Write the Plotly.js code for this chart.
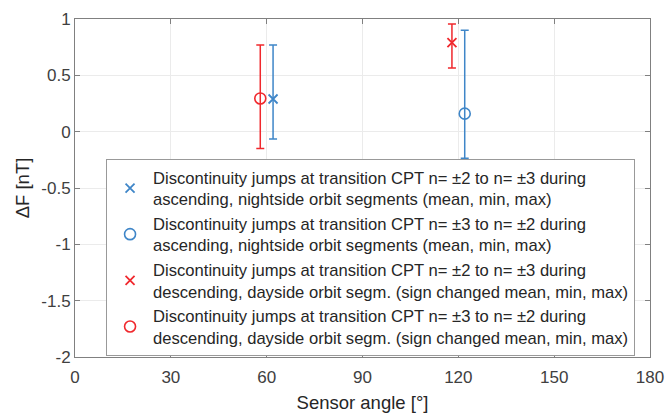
<!DOCTYPE html>
<html>
<head>
<meta charset="utf-8">
<script src="https://cdn.plot.ly/plotly-3.0.1.min.js"></script>
<style>html,body{margin:0;padding:0;background:#fff;}#chart{width:667px;height:414px;}</style>
</head>
<body>
<div id="chart"></div>
<script>
// Sensor angle (deg), mean, min, max for each series
const seriesNames = [
  "Discontinuity jumps at transition CPT n= \u00b12 to n= \u00b13 during<br>ascending, nightside orbit segments (mean, min, max)",
  "Discontinuity jumps at transition CPT n= \u00b13 to n= \u00b12 during<br>ascending, nightside orbit segments (mean, min, max)",
  "Discontinuity jumps at transition CPT n= \u00b12 to n= \u00b13 during<br>descending, dayside orbit segm. (sign changed mean, min, max)",
  "Discontinuity jumps at transition CPT n= \u00b13 to n= \u00b12 during<br>descending, dayside orbit segm. (sign changed mean, min, max)"
];
const ascX_angle = [62];   const ascX_mean = [0.29];  const ascX_min = [-0.065]; const ascX_max = [0.77];
const ascO_angle = [122];  const ascO_mean = [0.16];  const ascO_min = [-0.235]; const ascO_max = [0.90];
const desX_angle = [118];  const desX_mean = [0.79];  const desX_min = [0.565];  const desX_max = [0.955];
const desO_angle = [58];   const desO_mean = [0.295]; const desO_min = [-0.15];  const desO_max = [0.77];
const xTicks = [0, 30, 60, 90, 120, 150, 180];
const yTicks = [-2, -1.5, -1, -0.5, 0, 0.5, 1];

const BLUE = '#3f86c8';
const RED = '#f0282d';

function mk(name, xs, mean, mn, mx, color, symbol) {
  const isX = symbol === 'x-thin';
  return {
    type: 'scatter', mode: 'markers', name: name,
    x: xs, y: mean,
    error_y: {
      type: 'data', symmetric: false,
      array: mean.map((v, i) => mx[i] - v),
      arrayminus: mean.map((v, i) => v - mn[i]),
      color: color, thickness: 1.5, width: 4
    },
    marker: isX
      ? {symbol: 'x-thin', size: 9, color: color, line: {color: color, width: 1.8}}
      : {symbol: 'circle-open', size: 11, color: color, line: {color: color, width: 1.6}}
  };
}

const data = [
  mk(seriesNames[0], ascX_angle, ascX_mean, ascX_min, ascX_max, BLUE, 'x-thin'),
  mk(seriesNames[1], ascO_angle, ascO_mean, ascO_min, ascO_max, BLUE, 'circle-open'),
  mk(seriesNames[2], desX_angle, desX_mean, desX_min, desX_max, RED, 'x-thin'),
  mk(seriesNames[3], desO_angle, desO_mean, desO_min, desO_max, RED, 'circle-open')
];

const axCommon = {
  showline: true, mirror: 'ticks', linecolor: '#808080', linewidth: 1,
  showgrid: true, gridcolor: '#ebebeb', gridwidth: 1,
  zeroline: false, ticks: 'inside', ticklen: 5, tickcolor: '#808080',
  tickfont: {family: 'Liberation Sans, Arial, sans-serif', size: 17, color: '#404040'}
};

const layout = {
  width: 667, height: 414,
  margin: {l: 75, r: 17, t: 19, b: 57},
  paper_bgcolor: '#fff', plot_bgcolor: '#fff',
  font: {family: 'Liberation Sans, Arial, sans-serif', color: '#262626'},
  xaxis: Object.assign({}, axCommon, {
    range: [0, 180], tickvals: xTicks, ticktext: xTicks.map(String),
    ticklabelstandoff: 5,
    title: {text: 'Sensor angle [\u00b0]', font: {size: 18.5, color: '#262626'}, standoff: 9}
  }),
  yaxis: Object.assign({}, axCommon, {
    range: [-2, 1], tickvals: yTicks, ticktext: yTicks.map(String),
    title: {text: '\u0394F [nT]', font: {size: 18.5, color: '#262626'}, standoff: 6}
  }),
  showlegend: true,
  legend: {
    x: 0.054, y: 0.586, xanchor: 'left', yanchor: 'top',
    bgcolor: '#ffffff', bordercolor: '#999999', borderwidth: 1,
    itemwidth: 36,
    font: {family: 'Liberation Sans, Arial, sans-serif', size: 16.6, color: '#262626'},
    tracegroupgap: 0
  }
};

Plotly.newPlot('chart', data, layout, {displayModeBar: false, staticPlot: true});
</script>
</body>
</html>
